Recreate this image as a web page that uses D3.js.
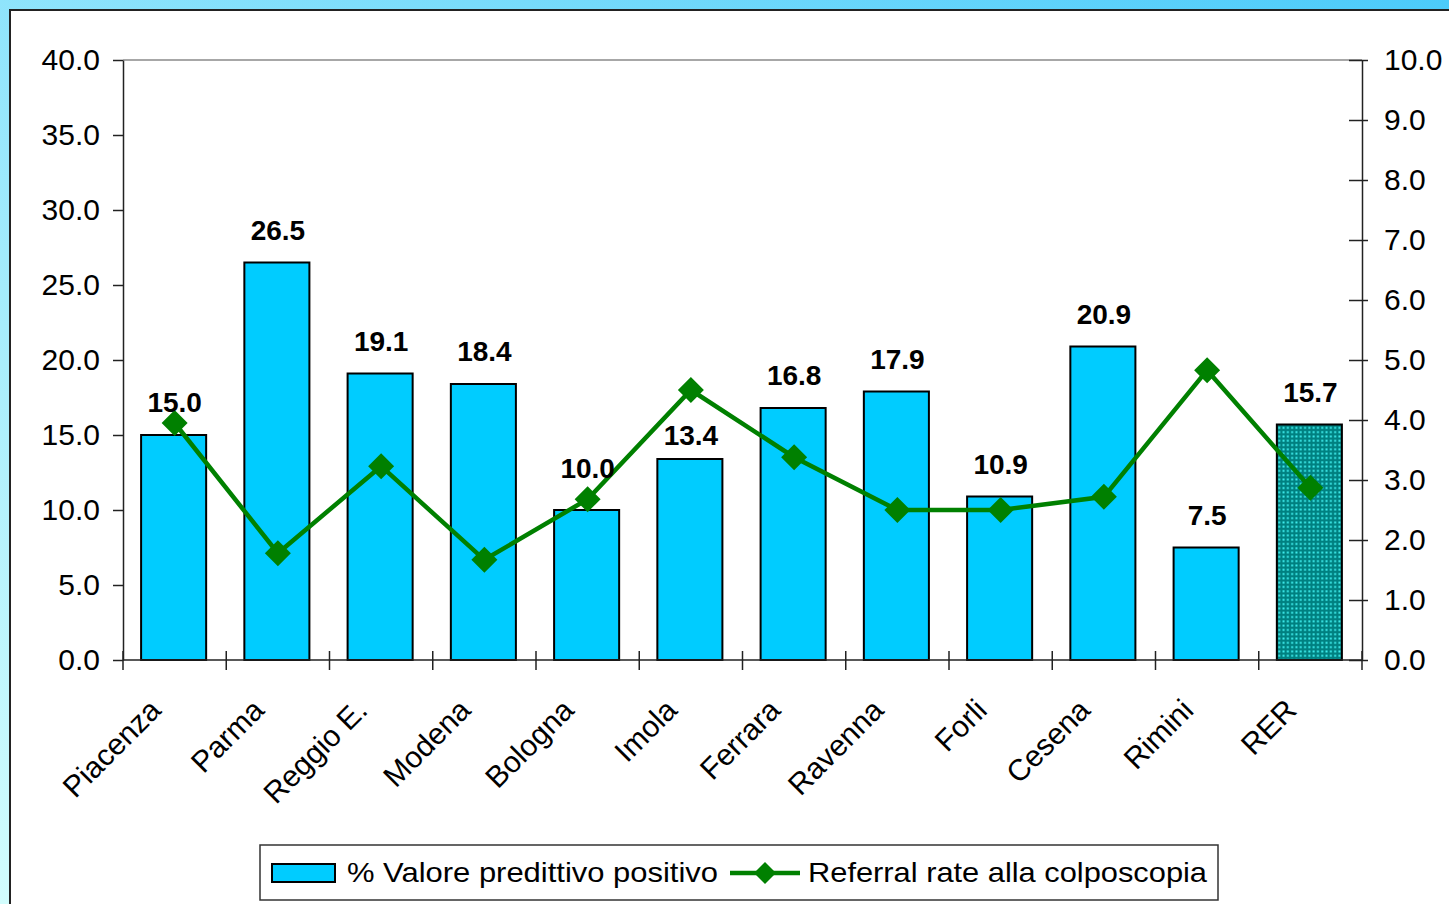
<!DOCTYPE html>
<html><head><meta charset="utf-8">
<script src="https://cdn.jsdelivr.net/npm/d3@7"></script>
<style>body{margin:0;overflow:hidden;background:#fff;} svg{display:block;font-family:Arial,"Liberation Sans",sans-serif;}</style>
</head><body>
<script>
const categories = ["Piacenza","Parma","Reggio E.","Modena","Bologna","Imola","Ferrara","Ravenna","Forli","Cesena","Rimini","RER"];
const vppValues = [15.0,26.5,19.1,18.4,10.0,13.4,16.8,17.9,10.9,20.9,7.5,15.7];
const referralValues = [3.95,1.78,3.23,1.67,2.68,4.50,3.38,2.50,2.50,2.72,4.83,2.87];
const leftTicks = [0,5,10,15,20,25,30,35,40];
const rightTicks = [0,1,2,3,4,5,6,7,8,9,10];
const seriesNames = ["% Valore predittivo positivo","Referral rate alla colposcopia"];

const W = 1449, H = 904;
const FONT = "Arial, 'Liberation Sans', sans-serif";
const plot = {left:123, right:1362, top:60, bottom:660};
const labelNudge = {"Bologna": -9, "Imola": 9};

const svg = d3.select("body").append("svg").attr("width", W).attr("height", H).attr("font-family", FONT);
const defs = svg.append("defs");
const grad = defs.append("linearGradient").attr("id","bg").attr("x1",0).attr("y1",1).attr("x2",1).attr("y2",0);
grad.append("stop").attr("offset","0%").attr("stop-color","#d2fdfd");
grad.append("stop").attr("offset","100%").attr("stop-color","#4ccbfa");
const pat = defs.append("pattern").attr("id","dots").attr("patternUnits","userSpaceOnUse").attr("width",4.3).attr("height",4.3);
pat.append("rect").attr("width",4.3).attr("height",4.3).attr("fill","#008080");
pat.append("rect").attr("x",1.2).attr("y",1.2).attr("width",1.9).attr("height",1.9).attr("fill","#40f0f0");

svg.append("rect").attr("width",W).attr("height",H).attr("fill","url(#bg)");
svg.append("rect").attr("x",10).attr("y",10).attr("width",W+10).attr("height",H+10)
  .attr("fill","#fff").attr("stroke","#222").attr("stroke-width",2);

const x = d3.scaleBand().domain(categories).range([plot.left, plot.right]).padding(0);
const yL = d3.scaleLinear().domain([0,40]).range([plot.bottom, plot.top]);
const yR = d3.scaleLinear().domain([0,10]).range([plot.bottom, plot.top]);
const bw = x.bandwidth();
const barW = bw * 0.63;

svg.append("line").attr("x1",plot.left).attr("x2",plot.right).attr("y1",plot.top).attr("y2",plot.top)
  .attr("stroke","#8a8a8a").attr("stroke-width",1.5);

svg.append("g").selectAll("rect").data(categories).join("rect")
  .attr("x", (c)=> x(c) + (bw-barW)/2 - 1)
  .attr("y", (c,i)=> yL(vppValues[i]))
  .attr("width", barW)
  .attr("height", (c,i)=> yL(0) - yL(vppValues[i]))
  .attr("fill", (c)=> c==="RER" ? "url(#dots)" : "#00ccff")
  .attr("stroke","#000").attr("stroke-width",2);

const axL = svg.append("g").attr("transform",`translate(${plot.left},0)`)
  .call(d3.axisLeft(yL).tickValues(leftTicks).tickFormat(d3.format(".1f")).tickSizeInner(10).tickSizeOuter(0).tickPadding(13));
const axR = svg.append("g").attr("transform",`translate(${plot.right},0)`)
  .call(d3.axisRight(yR).tickValues(rightTicks).tickFormat(d3.format(".1f")).tickSizeInner(6).tickSizeOuter(0).tickPadding(16));
axR.selectAll(".tick line").attr("x1",-13);
[axL, axR].forEach(a=>{
  a.attr("font-family", FONT);
  a.select(".domain").attr("stroke","#222").attr("stroke-width",1.5);
  a.selectAll(".tick line").attr("stroke","#222").attr("stroke-width",1.5);
  a.selectAll("text").attr("font-size",30).attr("fill","#000");
});

const bounds = categories.map(c=>x(c)).concat([x.range()[1]]);
svg.append("line").attr("x1",plot.left).attr("x2",plot.right).attr("y1",plot.bottom).attr("y2",plot.bottom)
  .attr("stroke","#222").attr("stroke-width",1.5);
svg.append("g").selectAll("line").data(bounds).join("line")
  .attr("x1",d=>d).attr("x2",d=>d).attr("y1",plot.bottom-9).attr("y2",plot.bottom+10)
  .attr("stroke","#222").attr("stroke-width",1.5);
svg.append("g").selectAll("text").data(categories).join("text")
  .attr("transform", c=>`translate(${x(c)+bw/2-12},${plot.bottom+52}) rotate(-45)`)
  .attr("text-anchor","end").attr("font-size",30).attr("fill","#000").text(c=>c);

const line = d3.line().x((d,i)=>x(categories[i])+bw/2).y(d=>yR(d));
svg.append("path").datum(referralValues).attr("d",line).attr("fill","none")
  .attr("stroke","#008000").attr("stroke-width",4.5).attr("stroke-linejoin","miter");
const diamond = "M0,-13L13,0L0,13L-13,0Z";
svg.append("g").selectAll("path").data(referralValues).join("path")
  .attr("transform",(d,i)=>`translate(${x(categories[i])+bw/2},${yR(d)})`)
  .attr("d",diamond).attr("fill","#008000");

svg.append("g").selectAll("text").data(categories).join("text")
  .attr("x", c=>x(c)+bw/2).attr("y",(c,i)=>yL(vppValues[i])-23+(labelNudge[c]||0))
  .attr("text-anchor","middle").attr("font-size",28).attr("font-weight","bold").attr("fill","#000")
  .text((c,i)=>d3.format(".1f")(vppValues[i]));

const lg = svg.append("g");
lg.append("rect").attr("x",260).attr("y",845).attr("width",958).attr("height",55)
  .attr("fill","#fff").attr("stroke","#333").attr("stroke-width",1.5);
lg.append("rect").attr("x",272).attr("y",864).attr("width",63).attr("height",18)
  .attr("fill","#00ccff").attr("stroke","#000").attr("stroke-width",2);
lg.append("text").attr("x",347).attr("y",882).attr("font-size",28).attr("textLength",371).attr("lengthAdjust","spacingAndGlyphs").text(seriesNames[0]);
lg.append("line").attr("x1",730).attr("x2",800).attr("y1",873).attr("y2",873).attr("stroke","#008000").attr("stroke-width",4.5);
lg.append("path").attr("transform","translate(765,873)").attr("d","M0,-11L11,0L0,11L-11,0Z").attr("fill","#008000");
lg.append("text").attr("x",808).attr("y",882).attr("font-size",28).attr("textLength",399).attr("lengthAdjust","spacingAndGlyphs").text(seriesNames[1]);
</script>
</body></html>
